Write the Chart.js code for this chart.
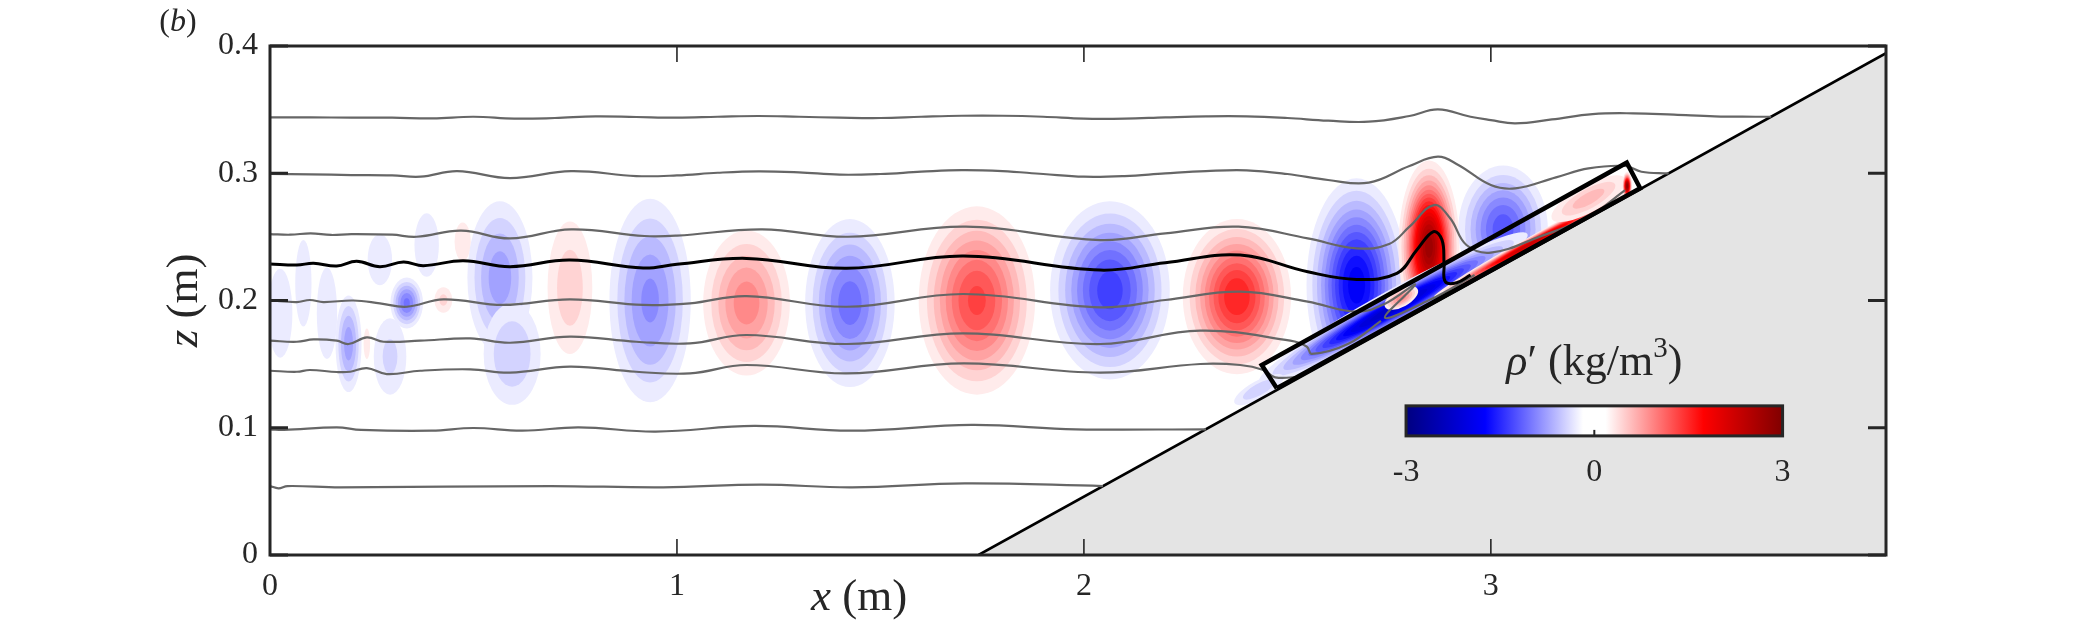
<!DOCTYPE html>
<html>
<head>
<meta charset="utf-8">
<title>rho prime section</title>
<script src="https://cdn.jsdelivr.net/npm/chart.js@4.4.1/dist/chart.umd.min.js"></script>
<style>
  html, body { margin: 0; padding: 0; background: #fff; }
  #wrap { width: 2084px; height: 625px; }
</style>
</head>
<body>
<div id="wrap"><canvas id="rhoChart" width="2084" height="625"></canvas></div>
<script>
// Axes
const xMin = 0, xMax = 3.971;
const zMin = 0, zMax = 0.4;
const xTicks = [0, 1, 2, 3];
const xTickLabels = ['0', '1', '2', '3'];
const zTicks = [0, 0.1, 0.2, 0.3, 0.4];
const zTickLabels = ['0', '0.1', '0.2', '0.3', '0.4'];

// Colour bar range and ticks
const cbMin = -3, cbMax = 3;
const cbTicks = [-3, 0, 3];
const cbTickLabels = ['-3', '0', '3'];

// Sloping bottom (x, z)
const slopeX = [1.741, 3.971];
const slopeZ = [0, 0.3943];

// Highlight box along the slope
const boxX = [2.474, 2.437, 3.334, 3.367, 2.474];
const boxZ = [0.131, 0.1493, 0.3083, 0.2882, 0.131];

// Isopycnals (top to bottom)
const isoAX = [0,0.1,0.2,0.3,0.4,0.5,0.6,0.7,0.8,0.9,1.0,1.1,1.2,1.3,1.4,1.5,1.6,1.7,1.8,1.9,2.0,2.1,2.2,2.3,2.4,2.5,2.6,2.7,2.8,2.87,2.95,3.0,3.06,3.15,3.25,3.35,3.45,3.55,3.65,3.689];
const isoAZ = [0.3439,0.3439,0.3437,0.3437,0.3431,0.3444,0.3429,0.3434,0.3447,0.3442,0.3437,0.3444,0.3450,0.3444,0.3437,0.3434,0.3444,0.3452,0.3452,0.3444,0.3429,0.3429,0.3439,0.3447,0.3447,0.3434,0.3413,0.3405,0.3450,0.3502,0.3444,0.3418,0.3392,0.3423,0.3465,0.3471,0.3460,0.3447,0.3444,0.3444];

const isoBX = [0,0.1,0.2,0.3,0.37,0.46,0.59,0.74,0.9,1.0,1.1,1.2,1.3,1.4,1.5,1.6,1.7,1.8,1.9,2.0,2.1,2.2,2.3,2.4,2.5,2.6,2.7,2.8,2.87,2.92,3.0,3.06,3.16,3.24,3.33,3.37,3.437];
const isoBZ = [0.2994,0.2991,0.2986,0.2983,0.2973,0.3017,0.2962,0.3017,0.2978,0.2983,0.3004,0.3015,0.3007,0.2989,0.2994,0.3012,0.3025,0.3017,0.2994,0.2973,0.2978,0.2999,0.3017,0.3023,0.2994,0.2947,0.2926,0.3057,0.3130,0.3065,0.2907,0.2881,0.2968,0.3038,0.3057,0.3012,0.2999];

const isoCX = [0,0.05,0.1,0.15,0.2,0.3,0.36,0.47,0.59,0.74,0.92,1.0,1.21,1.42,1.71,2.04,2.2,2.38,2.55,2.67,2.75,2.8,2.86,2.9,2.94,3.0,3.12,3.24,3.33];
const isoCZ = [0.2522,0.2517,0.2528,0.2515,0.2522,0.2517,0.2501,0.2549,0.2488,0.2559,0.2507,0.2510,0.2559,0.2501,0.2580,0.2475,0.2528,0.2580,0.2488,0.2410,0.2444,0.2580,0.2750,0.2646,0.2436,0.2376,0.2502,0.2659,0.2868];

// black reference isopycnal
const isoDX = [0,0.066,0.107,0.164,0.213,0.27,0.328,0.377,0.475,0.59,0.737,0.917,1.0,1.171,1.417,1.704,2.04,2.2,2.384,2.55,2.67,2.769,2.818,2.859,2.88,2.885,2.888,2.916,2.95];
const isoDZ = [0.2287,0.2279,0.2292,0.2271,0.2308,0.2266,0.2302,0.2274,0.2313,0.2266,0.2318,0.2255,0.2285,0.2331,0.2253,0.2349,0.2239,0.2297,0.2357,0.2226,0.2166,0.2213,0.2397,0.2541,0.2475,0.2292,0.2148,0.2140,0.2200];

const isoEX = [0,0.066,0.098,0.131,0.205,0.27,0.336,0.426,0.573,0.737,0.917,1.032,1.171,1.417,1.704,2.04,2.2,2.384,2.55,2.67,2.74,2.814,2.74,2.85,2.96];
const isoEZ = [0.2000,0.1988,0.2004,0.1988,0.2000,0.1978,0.1951,0.2009,0.1965,0.2009,0.1965,0.1978,0.2035,0.1951,0.2051,0.1946,0.2004,0.2069,0.1991,0.1912,0.1975,0.2125,0.1865,0.2005,0.2200];

const isoFX = [0,0.066,0.107,0.164,0.193,0.238,0.279,0.369,0.492,0.59,0.737,0.9,1.032,1.171,1.417,1.704,2.04,2.286,2.507,2.548,2.56,2.65,2.73];
const isoFZ = [0.1684,0.1676,0.1694,0.1684,0.1658,0.1710,0.1676,0.1684,0.1702,0.1668,0.1716,0.1676,0.1663,0.1729,0.1658,0.1742,0.1658,0.1763,0.1684,0.1637,0.1580,0.1660,0.1840];

const isoGX = [0,0.066,0.098,0.164,0.197,0.238,0.287,0.369,0.492,0.59,0.737,0.9,1.032,1.171,1.417,1.704,2.04,2.286,2.384,2.441,2.47,2.53];
const isoGZ = [0.1448,0.1440,0.1454,0.1438,0.1440,0.1469,0.1422,0.1448,0.1459,0.1433,0.1480,0.1440,0.1427,0.1493,0.1427,0.1506,0.1433,0.1501,0.1493,0.1454,0.1396,0.1400];

const isoHX = [0,0.034,0.164,0.224,0.397,0.5,0.62,0.759,0.948,1.19,1.43,1.724,1.98,2.30];
const isoHZ = [0.0988,0.0983,0.1003,0.0983,0.0977,0.0998,0.0977,0.1003,0.0970,0.1014,0.0977,0.1022,0.0988,0.0988];

const isoIX = [0,0.021,0.043,0.172,0.69,0.966,1.207,1.431,1.707,2.047];
const isoIZ = [0.0542,0.0524,0.0542,0.0532,0.0542,0.0532,0.0553,0.0532,0.0563,0.0542];

// Density anomaly patches: centre, visible half-extent, peak value, tilt (dz/dx)
const blobX   = [0.025,0.082,0.14,0.193,0.27,0.295,0.336,0.385,0.238,0.426,0.4735,0.565,0.595,0.737,0.934,1.171,1.425,1.737,2.064,2.376,2.67,2.848,3.03,2.76,3.1,3.24,3.335,2.43,2.78];
const blobZ   = [0.190,0.2135,0.19,0.166,0.232,0.156,0.198,0.2436,0.166,0.2004,0.2462,0.218,0.158,0.210,0.200,0.198,0.198,0.200,0.208,0.203,0.212,0.242,0.256,0.194,0.245,0.28,0.29,0.13,0.202];
const blobEx  = [0.03,0.02,0.025,0.032,0.03,0.04,0.04,0.03,0.008,0.022,0.02,0.08,0.07,0.055,0.1,0.1065,0.11,0.143,0.147,0.133,0.123,0.075,0.11,0.33,0.24,0.09,0.012,0.06,0.04];
const blobEz  = [0.035,0.034,0.036,0.038,0.02,0.03,0.02,0.025,0.012,0.010,0.015,0.06,0.04,0.052,0.08,0.057,0.066,0.074,0.07,0.061,0.084,0.068,0.05,0.016,0.006,0.012,0.011,0.008,0.008];
const blobAmp = [-0.4,-0.4,-0.4,-0.85,-0.45,-0.5,-1.1,-0.45,0.45,0.5,0.4,-0.85,-0.6,0.55,-0.95,1.0,-1.15,1.4,-1.45,1.65,-1.9,2.8,-1.3,-2.4,2.4,0.7,3.0,-0.6,1.0];
const blobTilt = [0,0,0,0,0,0,0,0,0,0,0,0,0,0,0,0,0,0,0,0,0,0,0,0.1768,0.1768,0.1768,0,0.1768,0.1768];

// colormap (navy - blue - white - red - dark red)
const cmapPos = [0, 0.21, 0.47, 0.53, 0.79, 1];
const cmapRGB = [[0,0,128],[0,0,255],[255,255,255],[255,255,255],[255,0,0],[128,0,0]];
const firstLevel = 0.3, levelStep = 0.15;

const INK = '#262626';
const SERIF = '"Liberation Serif", "DejaVu Serif", serif';

function rhoColor(v) {
  let f = (v - cbMin) / (cbMax - cbMin);
  f = Math.max(0, Math.min(1, f));
  for (let k = 1; k < cmapPos.length; k++) {
    if (f <= cmapPos[k]) {
      const t = (f - cmapPos[k - 1]) / (cmapPos[k] - cmapPos[k - 1]);
      const a = cmapRGB[k - 1], b = cmapRGB[k];
      const c = [0, 1, 2].map(j => Math.round(a[j] + (b[j] - a[j]) * t));
      return 'rgb(' + c.join(',') + ')';
    }
  }
  return 'rgb(128,0,0)';
}

function pts(xs, zs) {
  return xs.map((x, i) => ({ x: x, y: zs[i] }));
}

function richText(ctx, parts, x, y) {
  let w = 0;
  parts.forEach(p => { ctx.font = p.font; p.w = ctx.measureText(p.t).width; w += p.w; });
  let cx = x - w / 2;
  ctx.textAlign = 'left';
  parts.forEach(p => { ctx.font = p.font; ctx.fillText(p.t, cx, y + (p.dy || 0)); cx += p.w; });
}

// contour-like patches, drawn under everything else
const fieldPlugin = {
  id: 'rhoField',
  beforeDatasetsDraw(chart) {
    const ctx = chart.ctx, ca = chart.chartArea;
    const xs = chart.scales.x, ys = chart.scales.y;
    const kx = xs.getPixelForValue(1) - xs.getPixelForValue(0);
    const kz = ys.getPixelForValue(0) - ys.getPixelForValue(1);
    ctx.save();
    ctx.beginPath();
    ctx.rect(ca.left, ca.top, ca.right - ca.left, ca.bottom - ca.top);
    ctx.clip();
    for (let i = 0; i < blobX.length; i++) {
      const cx = xs.getPixelForValue(blobX[i]);
      const cy = ys.getPixelForValue(blobZ[i]);
      const ang = -Math.atan(blobTilt[i] * kz / kx);
      const rx = blobEx[i] * kx / Math.cos(ang);
      const rz = blobEz[i] * kz * Math.cos(ang);
      const a = Math.abs(blobAmp[i]), sgn = Math.sign(blobAmp[i]);
      const l0 = Math.log(a / firstLevel);
      for (let k = 0; ; k++) {
        const L = firstLevel + k * levelStep;
        if (L >= a - 1e-6) break;
        const s = l0 > 0 ? Math.sqrt(Math.log(a / L) / l0) : 1;
        ctx.fillStyle = rhoColor(sgn * L);
        ctx.beginPath();
        ctx.ellipse(cx, cy, rx * s, rz * s, ang, 0, Math.PI * 2);
        ctx.fill();
      }
    }
    ctx.restore();
  }
};

// frame, ticks, colour bar and labels
const decorPlugin = {
  id: 'decor',
  afterDatasetsDraw(chart) {
    const ctx = chart.ctx, ca = chart.chartArea;
    const xs = chart.scales.x, ys = chart.scales.y;
    const w = ca.right - ca.left, h = ca.bottom - ca.top;
    ctx.save();

    // colour bar
    const cbL = ca.left + 0.703 * w, cbR = ca.left + 0.936 * w;
    const cbT = ca.top + 0.707 * h, cbB = ca.top + 0.766 * h;
    const grad = ctx.createLinearGradient(cbL, 0, cbR, 0);
    cmapPos.forEach((p, k) => grad.addColorStop(p, 'rgb(' + cmapRGB[k].join(',') + ')'));
    ctx.fillStyle = grad;
    ctx.fillRect(cbL, cbT, cbR - cbL, cbB - cbT);
    ctx.strokeStyle = INK;
    ctx.lineWidth = 3;
    ctx.strokeRect(cbL, cbT, cbR - cbL, cbB - cbT);
    ctx.fillStyle = INK;
    ctx.textBaseline = 'middle';
    cbTicks.forEach((v, i) => {
      const px = cbL + (v - cbMin) / (cbMax - cbMin) * (cbR - cbL);
      ctx.lineWidth = 2;
      ctx.beginPath();
      ctx.moveTo(px, cbB);
      ctx.lineTo(px, cbB - 6);
      ctx.stroke();
      richText(ctx, [{ t: cbTickLabels[i], font: '32px ' + SERIF }], px, cbB + 37);
    });
    richText(ctx, [
      { t: 'ρ', font: 'italic 44px ' + SERIF },
      { t: '′', font: '44px ' + SERIF },
      { t: ' (kg/m', font: '44px ' + SERIF },
      { t: '3', font: '29px ' + SERIF, dy: -14 },
      { t: ')', font: '44px ' + SERIF }
    ], (cbL + cbR) / 2, cbT - 42);

    // frame
    ctx.strokeStyle = INK;
    ctx.lineWidth = 3;
    ctx.strokeRect(ca.left, ca.top, w, h);
    ctx.lineWidth = 3;
    zTicks.forEach(v => {
      const py = ys.getPixelForValue(v);
      ctx.beginPath();
      ctx.moveTo(ca.left, py); ctx.lineTo(ca.left + 18, py);
      ctx.moveTo(ca.right, py); ctx.lineTo(ca.right - 18, py);
      ctx.stroke();
    });
    ctx.lineWidth = 1.6;
    xTicks.forEach(v => {
      const px = xs.getPixelForValue(v);
      ctx.beginPath();
      ctx.moveTo(px, ca.bottom); ctx.lineTo(px, ca.bottom - 16);
      ctx.moveTo(px, ca.top); ctx.lineTo(px, ca.top + 16);
      ctx.stroke();
    });

    // axis titles and panel letter
    ctx.fillStyle = INK;
    ctx.textBaseline = 'middle';
    richText(ctx, [
      { t: 'x', font: 'italic 45px ' + SERIF },
      { t: ' (m)', font: '45px ' + SERIF }
    ], ca.left + 0.3645 * w, ca.bottom + 43);

    ctx.save();
    ctx.translate(ca.left - 85, (ca.top + ca.bottom) / 2);
    ctx.rotate(-Math.PI / 2);
    richText(ctx, [
      { t: 'z', font: 'italic 45px ' + SERIF },
      { t: ' (m)', font: '45px ' + SERIF }
    ], 0, 0);
    ctx.restore();

    richText(ctx, [
      { t: '(', font: '32px ' + SERIF },
      { t: 'b', font: 'italic 32px ' + SERIF },
      { t: ')', font: '32px ' + SERIF }
    ], ca.left - 92, ca.top - 23);
    ctx.restore();
  }
};

const grey = '#666666';
function isoSet(xs, zs, color, width) {
  return {
    data: pts(xs, zs), showLine: true, borderColor: color, borderWidth: width,
    pointRadius: 0, tension: 0.4, fill: false, order: 5
  };
}

const ctx = document.getElementById('rhoChart').getContext('2d');
new Chart(ctx, {
  type: 'scatter',
  data: {
    datasets: [
      {
        data: pts(boxX, boxZ), showLine: true, borderColor: '#000', borderWidth: 4.5,
        pointRadius: 0, tension: 0, fill: false, borderJoinStyle: 'miter', order: 1
      },
      isoSet(isoAX, isoAZ, grey, 2.2),
      isoSet(isoBX, isoBZ, grey, 2.2),
      isoSet(isoCX, isoCZ, grey, 2.2),
      isoSet(isoDX, isoDZ, '#000', 3),
      isoSet(isoEX, isoEZ, grey, 2.2),
      isoSet(isoFX, isoFZ, grey, 2.2),
      isoSet(isoGX, isoGZ, grey, 2.2),
      isoSet(isoHX, isoHZ, grey, 2.2),
      isoSet(isoIX, isoIZ, grey, 2.2),
      {
        data: pts(slopeX, slopeZ), showLine: true, borderColor: '#000', borderWidth: 2.6,
        backgroundColor: '#e4e4e4', fill: 'origin', pointRadius: 0, tension: 0, order: 10
      }
    ]
  },
  options: {
    responsive: false,
    animation: false,
    devicePixelRatio: 1,
    events: [],
    layout: { padding: { left: 0, right: 198, top: 46, bottom: 0 } },
    plugins: {
      legend: { display: false },
      tooltip: { enabled: false }
    },
    scales: {
      x: {
        type: 'linear', min: xMin, max: xMax,
        grid: { display: false, drawTicks: false },
        border: { display: false },
        afterBuildTicks: s => { s.ticks = xTicks.map(v => ({ value: v })); },
        afterFit: s => { s.height = 70; },
        ticks: {
          callback: (v, i) => xTickLabels[i],
          font: { family: SERIF, size: 32 }, color: INK, padding: 12, maxRotation: 0
        }
      },
      y: {
        type: 'linear', min: zMin, max: zMax,
        grid: { display: false, drawTicks: false },
        border: { display: false },
        afterBuildTicks: s => { s.ticks = zTicks.map(v => ({ value: v })); },
        afterFit: s => { s.width = 270; },
        ticks: {
          callback: (v, i) => zTickLabels[i],
          font: { family: SERIF, size: 32 }, color: INK, padding: 12
        }
      }
    }
  },
  plugins: [fieldPlugin, decorPlugin]
});
</script>
</body>
</html>
